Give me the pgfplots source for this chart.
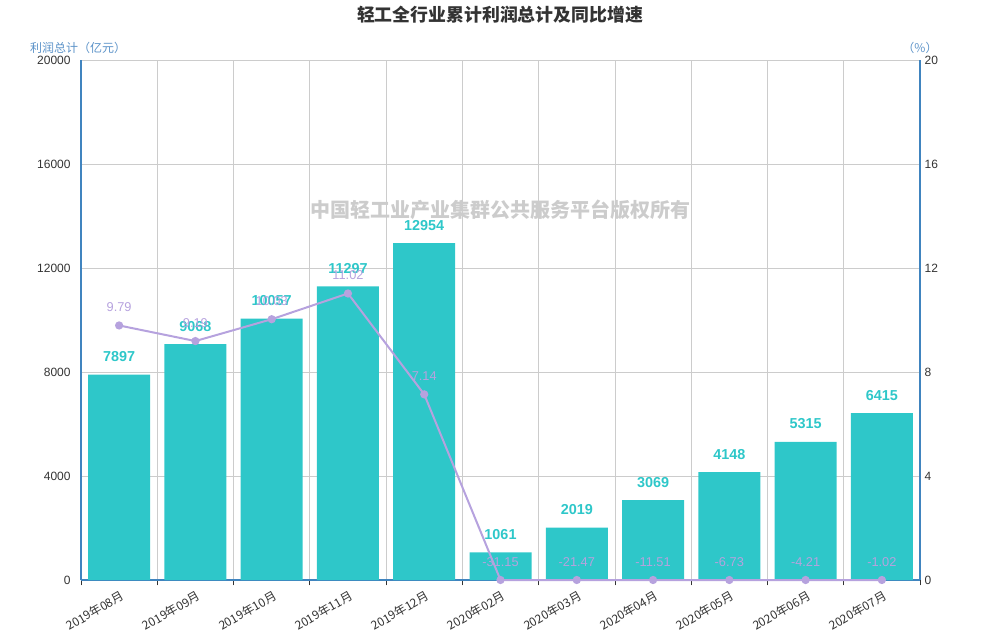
\documentclass[border=0pt]{standalone}
\usepackage{fontspec}
\setmainfont{Liberation Sans}
\newfontfamily\cjk{Noto Sans CJK SC}
\usepackage{pgfplots}
\usepackage{pgfplotstable}
\pgfplotsset{compat=1.18}
\definecolor{teal1}{HTML}{2EC7C9}
\definecolor{purp}{HTML}{B6A2DE}
\definecolor{axblue}{HTML}{4084BF}
\definecolor{gridc}{HTML}{CCCCCC}
\definecolor{txt}{HTML}{333333}
\definecolor{wm}{HTML}{CCCCCC}
\definecolor{lbl}{HTML}{5B92C8}

\pgfplotstableread{
x y
0 7897
1 9068
2 10057
3 11297
4 12954
5 1061
6 2019
7 3069
8 4148
9 5315
10 6415
}\bardata

\pgfplotstableread{
x y
0 9.79
1 9.19
2 10.03
3 11.02
4 7.14
5 -31.15
6 -21.47
7 -11.51
8 -6.73
9 -4.21
10 -1.02
}\linedata

\pgfplotsset{
  common/.style={
    scale only axis, width=629.25pt, height=390pt,
    at={(60.75pt,45pt)}, anchor=south west,
    xmin=-0.5, xmax=10.5,
    /pgf/number format/assume math mode=true,
    ticklabel style={font=\fontsize{9}{10}\selectfont, text=txt},
    scaled y ticks=false,
    yticklabel style={/pgf/number format/fixed, /pgf/number format/1000 sep={}},
    major y tick style={draw=none},
  }
}

\begin{document}
\begin{tikzpicture}
\useasboundingbox (0,0) rectangle (750pt,480pt);
\begin{axis}[common,
  ymin=0, ymax=20000,
  axis lines*=left,
  axis line style={axblue, line width=1.5pt},
  ytick={0,4000,...,20000},
  ymajorgrids, xminorgrids,
  grid style={gridc, line width=0.6pt},
  xtick={0,...,10},
  xticklabels={2019年08月,2019年09月,2019年10月,2019年11月,2019年12月,2020年02月,2020年03月,2020年04月,2020年05月,2020年06月,2020年07月},
  xticklabel style={rotate=30, anchor=north east, inner sep=1pt, yshift=-2pt, font=\cjk\fontsize{9}{10}\selectfont},
  major x tick style={draw=none},
  minor xtick={-0.5,0.5,...,10.5},
  minor x tick style={draw=txt, line width=0.6pt},
  tick align=outside,
  minor tick length=4pt,
  clip=false,
]
\addplot[ybar, bar width=46.5pt, fill=teal1, draw=none,
  point meta=explicit symbolic,
  nodes near coords,
  every node near coord/.style={font=\bfseries\fontsize{10.8}{12}\selectfont, text=teal1, anchor=south, inner sep=0pt, yshift=9.5pt}]
  table[x=x,y=y,meta=y]{\bardata};
\node[font=\cjk\bfseries\fontsize{15}{18}\selectfont, text=wm] at (axis cs:5,14230) {中国轻工业产业集群公共服务平台版权所有};
\end{axis}
\begin{axis}[common,
  ymin=0, ymax=20,
  axis x line=none,
  axis y line*=right,
  axis line style={axblue, line width=1.5pt},
  ytick={0,4,...,20},
  yticklabel style={anchor=west},
  clip=false,
]
\addplot[purp, line width=1.5pt, mark=*, mark size=2.3pt, mark options={fill=purp, draw=purp},
  y filter/.expression={y<0 ? 0 : y},
  point meta=explicit symbolic,
  nodes near coords,
  every node near coord/.style={font=\fontsize{9.6}{10}\selectfont, text=purp, anchor=south, inner sep=0pt, yshift=9.5pt}]
  table[x=x,y=y,meta=y]{\linedata};
\end{axis}
\node[font=\cjk\bfseries\fontsize{13.4}{16}\selectfont, text=txt] at (375pt,468.75pt) {轻工全行业累计利润总计及同比增速};
\node[font=\cjk\fontsize{9}{10}\selectfont, text=lbl] at (58.5pt,444pt) {利润总计（亿元）};
\node[font=\cjk\fontsize{9}{10}\selectfont, text=lbl] at (690pt,444pt) {（\%）};
\end{tikzpicture}
\end{document}
